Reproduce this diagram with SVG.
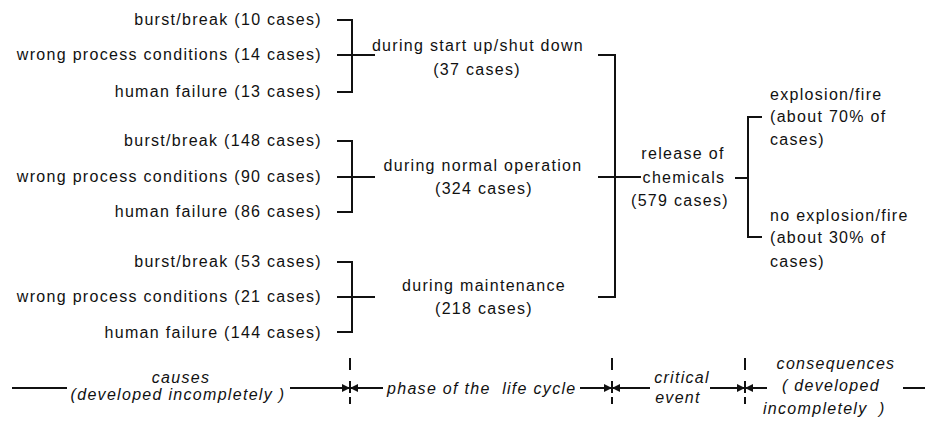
<svg xmlns="http://www.w3.org/2000/svg" width="925" height="423" viewBox="0 0 925 423">
<defs>
<style>
text{font-family:"Liberation Sans",Arial,sans-serif;font-size:16px;fill:#111;letter-spacing:1.3px}
.r{text-anchor:end}
.m{text-anchor:middle}
.i{font-style:italic}
.p{white-space:pre}
.ln{stroke:#111;stroke-width:2;fill:none}
</style>
<marker id="ah" viewBox="0 0 10 10" refX="10" refY="5" markerWidth="8" markerHeight="8" markerUnits="userSpaceOnUse" orient="auto"><path d="M0,0L10,5L0,10z" fill="#111"/></marker>
</defs>
<rect width="925" height="423" fill="#fff"/>
<g id="cause-1">
<text class="r" x="322" y="25">burst/break (10 cases)</text>
<text class="r" x="322" y="60">wrong process conditions (14 cases)</text>
<text class="r" x="322" y="97">human failure (13 cases)</text>
</g>
<g id="cause-2">
<text class="r" x="322" y="146">burst/break (148 cases)</text>
<text class="r" x="322" y="182">wrong process conditions (90 cases)</text>
<text class="r" x="322" y="217">human failure (86 cases)</text>
</g>
<g id="cause-3">
<text class="r" x="322" y="267">burst/break (53 cases)</text>
<text class="r" x="322" y="302">wrong process conditions (21 cases)</text>
<text class="r" x="322" y="338">human failure (144 cases)</text>
</g>
<g id="phase-startup">
<text class="m" x="478" y="51">during start up/shut down</text>
<text class="m" x="477" y="75">(37 cases)</text>
</g>
<g id="phase-normal">
<text class="m" x="483" y="171">during normal operation</text>
<text class="m" x="484" y="194">(324 cases)</text>
</g>
<g id="phase-maintenance">
<text class="m" x="484" y="291">during maintenance</text>
<text class="m" x="484" y="314">(218 cases)</text>
</g>
<g id="critical-release">
<text class="m" x="683" y="159">release of</text>
<text class="m" x="684" y="183">chemicals</text>
<text class="m" x="680" y="206">(579 cases)</text>
</g>
<g id="consequence-fire">
<text x="770" y="100">explosion/fire</text>
<text x="770" y="122">(about 70% of</text>
<text x="770" y="145">cases)</text>
</g>
<g id="consequence-nofire">
<text x="770" y="221">no explosion/fire</text>
<text x="770" y="243">(about 30% of</text>
<text x="770" y="267">cases)</text>
</g>
<g id="connectors">
<path class="ln" d="M337,20H352V92H337M337,55H375"/>
<path class="ln" d="M337,141H352V212H337M337,177H375"/>
<path class="ln" d="M337,262H352V332H337M337,297H375"/>
<path class="ln" d="M598,55H615V297H598M598,177H641"/>
<path class="ln" d="M762,117H748V237H762M735,178H748"/>
</g>
<g id="timeline">
<text class="m i" x="181" y="383">causes</text>
<text class="m i" x="178" y="400">(developed incompletely )</text>
<text class="i p" x="387" y="394" xml:space="preserve">phase of the  life cycle</text>
<text class="m i" x="682" y="383">critical</text>
<text class="m i" x="678" y="403">event</text>
<text class="m i" x="836" y="369">consequences</text>
<text class="i" x="782" y="391">( developed</text>
<text class="i p" x="763" y="414" xml:space="preserve">incompletely  )</text>
<path class="ln" d="M12,388H67"/>
<path class="ln" d="M290,388H350" marker-end="url(#ah)"/>
<path class="ln" d="M383,388H350" marker-end="url(#ah)"/>
<path class="ln" d="M580,388H612" marker-end="url(#ah)"/>
<path class="ln" d="M650,388H612" marker-end="url(#ah)"/>
<path class="ln" d="M710,388H745" marker-end="url(#ah)"/>
<path class="ln" d="M767,388H745" marker-end="url(#ah)"/>
<path class="ln" d="M903,388H925"/>
<path class="ln" d="M350,358V370M350,381V393M350,397V404M612,358V370M612,381V393M612,397V404M745,358V370M745,381V393M745,397V404"/>
</g>
</svg>
